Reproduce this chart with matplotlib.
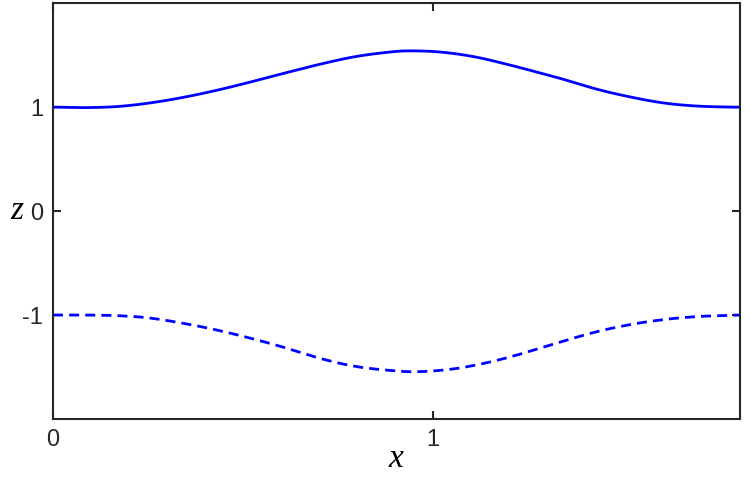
import numpy as np
import matplotlib
matplotlib.use("Agg")
import matplotlib.pyplot as plt

# values
x_upper = [0.0, 0.080, 0.168, 0.255, 0.343, 0.431, 0.518, 0.606, 0.711, 0.799,
           0.887, 0.939, 1.018, 1.106, 1.194, 1.282, 1.343, 1.431, 1.518, 1.606,
           1.694, 1.782, 1.806]
z_upper = [1.0, 0.995, 1.005, 1.040, 1.094, 1.162, 1.240, 1.324, 1.420, 1.488,
           1.530, 1.541, 1.530, 1.486, 1.412, 1.328, 1.267, 1.172, 1.098, 1.040,
           1.010, 1.000, 1.0]

x_lower = [0.0, 0.089, 0.176, 0.255, 0.343, 0.422, 0.510, 0.597, 0.711, 0.799,
           0.887, 0.957, 1.045, 1.132, 1.220, 1.343, 1.431, 1.518, 1.606,
           1.694, 1.790, 1.806]
z_lower = [-1.0, -1.0, -1.007, -1.029, -1.080, -1.137, -1.214, -1.300, -1.425, -1.496,
           -1.533, -1.545, -1.522, -1.466, -1.385, -1.250, -1.160, -1.092, -1.044,
           -1.015, -1.002, -1.0]

x_ticks = [0, 1]
y_ticks = [-1, 0, 1]


def smooth(xs, ys, n=400):
    """Catmull-Rom curve through the read points."""
    xs = np.asarray(xs, float)
    ys = np.asarray(ys, float)
    t = np.linspace(0, len(xs) - 1, n)
    out_x, out_y = [], []
    for tt in t:
        i = min(int(tt), len(xs) - 2)
        u = tt - i
        i0, i1, i2, i3 = max(i - 1, 0), i, i + 1, min(i + 2, len(xs) - 1)
        for arr, out in ((xs, out_x), (ys, out_y)):
            p0, p1, p2, p3 = arr[i0], arr[i1], arr[i2], arr[i3]
            out.append(0.5 * ((2 * p1) + (-p0 + p2) * u
                              + (2 * p0 - 5 * p1 + 4 * p2 - p3) * u ** 2
                              + (-p0 + 3 * p1 - 3 * p2 + p3) * u ** 3))
    return np.array(out_x), np.array(out_y)


fig = plt.figure(figsize=(7.5, 4.83), dpi=100)
ax = fig.add_axes([0.0707, 0.1325, 0.9153, 0.861])

xu, zu = smooth(x_upper, z_upper)
xl, zl = smooth(x_lower, z_lower)
ax.plot(xu, zu, color="#0000ff", lw=2.0, solid_capstyle="butt")
ax.plot(xl, zl, color="#0000ff", lw=2.0, dashes=(3.6, 2.2), dash_capstyle="butt")

ax.set_xlim(0, 1.806)
ax.set_ylim(-2, 2)
ax.set_xticks(x_ticks)
ax.set_yticks(y_ticks)
ax.set_xticklabels([str(v) for v in x_ticks], family="Liberation Sans", fontsize=17)
ax.set_yticklabels([str(v) for v in y_ticks], family="Liberation Sans", fontsize=17)

for s in ax.spines.values():
    s.set_color("#262626")
    s.set_linewidth(1.5)
ax.tick_params(direction="in", length=6, width=1.5, color="#262626",
               labelcolor="#262626", top=True, right=True, pad=7)

ax.set_xlabel("x", family="Liberation Serif", style="italic", fontsize=24, labelpad=-5)
ax.set_ylabel("z", family="Liberation Serif", style="italic", fontsize=24,
              rotation=0, labelpad=4, va="center")

fig.savefig("out.png", dpi=100)
